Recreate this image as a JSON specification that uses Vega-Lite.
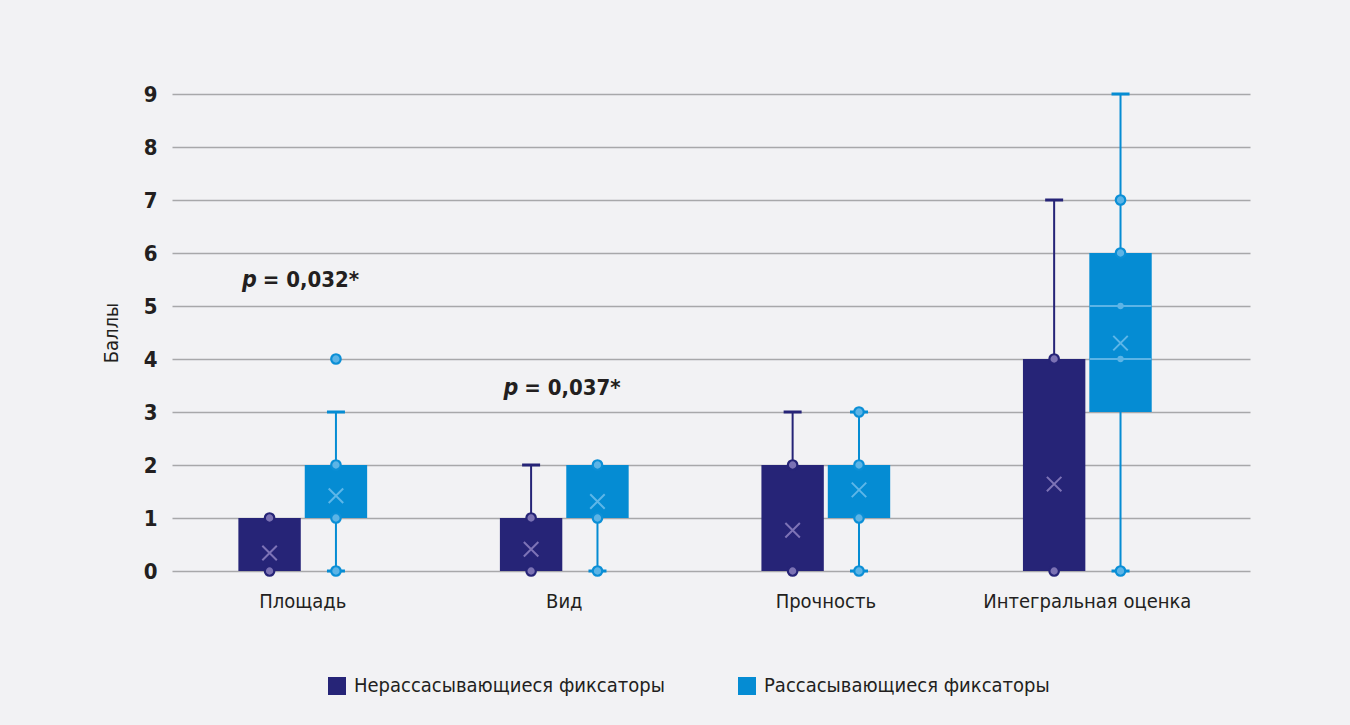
{
  "$schema": "https://vega.github.io/schema/vega-lite/v6.json",
  "autosize": "none",
  "width": 1078,
  "height": 477,
  "padding": {"left": 172, "top": 94, "right": 100, "bottom": 154},
  "background": "#f2f2f4",
  "config": {
    "font": "DejaVu Sans Condensed, Liberation Sans Narrow, sans-serif",
    "view": {"stroke": null},
    "axis": {
      "domain": false,
      "ticks": false,
      "labelColor": "#231f20",
      "titleColor": "#231f20",
      "labelFont": "DejaVu Sans Condensed, Liberation Sans Narrow, sans-serif",
      "titleFont": "DejaVu Sans Condensed, Liberation Sans Narrow, sans-serif"
    },
    "axisX": {"labelFontSize": 20, "labelPadding": 20, "grid": false, "labelAngle": 0, "labelLimit": 400},
    "axisY": {
      "labelFontSize": 22,
      "labelFontWeight": "bold",
      "labelPadding": 15,
      "grid": true,
      "gridColor": "#a8a8aa",
      "gridWidth": 1.5,
      "titleFontSize": 20,
      "titleFontWeight": "normal",
      "titlePadding": 22
    },
    "legend": {
      "labelFont": "DejaVu Sans Condensed, Liberation Sans Narrow, sans-serif",
      "labelFontSize": 20,
      "labelColor": "#231f20",
      "symbolType": "square",
      "symbolSize": 324,
      "symbolStrokeWidth": 0,
      "labelOffset": 7,
      "padding": 0,
      "columnPadding": 72,
      "labelLimit": 600
    }
  },
  "datasets": {
    "boxes": [
      {"cat": "Площадь", "grp": "Нерассасывающиеся фиксаторы", "lo": 0, "q1": 0, "q3": 1, "hi": 1, "mean": 0.34},
      {"cat": "Площадь", "grp": "Рассасывающиеся фиксаторы", "lo": 0, "q1": 1, "q3": 2, "hi": 3, "mean": 1.42},
      {"cat": "Вид", "grp": "Нерассасывающиеся фиксаторы", "lo": 0, "q1": 0, "q3": 1, "hi": 2, "mean": 0.41},
      {"cat": "Вид", "grp": "Рассасывающиеся фиксаторы", "lo": 0, "q1": 1, "q3": 2, "hi": 2, "mean": 1.31},
      {"cat": "Прочность", "grp": "Нерассасывающиеся фиксаторы", "lo": 0, "q1": 0, "q3": 2, "hi": 3, "mean": 0.77},
      {"cat": "Прочность", "grp": "Рассасывающиеся фиксаторы", "lo": 0, "q1": 1, "q3": 2, "hi": 3, "mean": 1.53},
      {"cat": "Интегральная оценка", "grp": "Нерассасывающиеся фиксаторы", "lo": 0, "q1": 0, "q3": 4, "hi": 7, "mean": 1.64},
      {"cat": "Интегральная оценка", "grp": "Рассасывающиеся фиксаторы", "lo": 0, "q1": 3, "q3": 6, "hi": 9, "mean": 4.3}
    ],
    "caps": [
      {"cat": "Площадь", "grp": "Рассасывающиеся фиксаторы", "v": 3},
      {"cat": "Площадь", "grp": "Рассасывающиеся фиксаторы", "v": 0},
      {"cat": "Вид", "grp": "Нерассасывающиеся фиксаторы", "v": 2},
      {"cat": "Вид", "grp": "Рассасывающиеся фиксаторы", "v": 0},
      {"cat": "Прочность", "grp": "Нерассасывающиеся фиксаторы", "v": 3},
      {"cat": "Прочность", "grp": "Рассасывающиеся фиксаторы", "v": 3},
      {"cat": "Прочность", "grp": "Рассасывающиеся фиксаторы", "v": 0},
      {"cat": "Интегральная оценка", "grp": "Нерассасывающиеся фиксаторы", "v": 7},
      {"cat": "Интегральная оценка", "grp": "Рассасывающиеся фиксаторы", "v": 9},
      {"cat": "Интегральная оценка", "grp": "Рассасывающиеся фиксаторы", "v": 0}
    ],
    "points": [
      {"cat": "Площадь", "grp": "Нерассасывающиеся фиксаторы", "v": 0},
      {"cat": "Площадь", "grp": "Нерассасывающиеся фиксаторы", "v": 1},
      {"cat": "Площадь", "grp": "Рассасывающиеся фиксаторы", "v": 0},
      {"cat": "Площадь", "grp": "Рассасывающиеся фиксаторы", "v": 1},
      {"cat": "Площадь", "grp": "Рассасывающиеся фиксаторы", "v": 2},
      {"cat": "Площадь", "grp": "Рассасывающиеся фиксаторы", "v": 4},
      {"cat": "Вид", "grp": "Нерассасывающиеся фиксаторы", "v": 0},
      {"cat": "Вид", "grp": "Нерассасывающиеся фиксаторы", "v": 1},
      {"cat": "Вид", "grp": "Рассасывающиеся фиксаторы", "v": 0},
      {"cat": "Вид", "grp": "Рассасывающиеся фиксаторы", "v": 1},
      {"cat": "Вид", "grp": "Рассасывающиеся фиксаторы", "v": 2},
      {"cat": "Прочность", "grp": "Нерассасывающиеся фиксаторы", "v": 0},
      {"cat": "Прочность", "grp": "Нерассасывающиеся фиксаторы", "v": 2},
      {"cat": "Прочность", "grp": "Рассасывающиеся фиксаторы", "v": 0},
      {"cat": "Прочность", "grp": "Рассасывающиеся фиксаторы", "v": 1},
      {"cat": "Прочность", "grp": "Рассасывающиеся фиксаторы", "v": 2},
      {"cat": "Прочность", "grp": "Рассасывающиеся фиксаторы", "v": 3},
      {"cat": "Интегральная оценка", "grp": "Нерассасывающиеся фиксаторы", "v": 0},
      {"cat": "Интегральная оценка", "grp": "Нерассасывающиеся фиксаторы", "v": 4},
      {"cat": "Интегральная оценка", "grp": "Рассасывающиеся фиксаторы", "v": 0},
      {"cat": "Интегральная оценка", "grp": "Рассасывающиеся фиксаторы", "v": 6},
      {"cat": "Интегральная оценка", "grp": "Рассасывающиеся фиксаторы", "v": 7}
    ],
    "inner": [
      {"cat": "Интегральная оценка", "grp": "Рассасывающиеся фиксаторы", "v": 4},
      {"cat": "Интегральная оценка", "grp": "Рассасывающиеся фиксаторы", "v": 5}
    ],
    "notes": [
      {"cat": "Площадь", "y": 5.5, "p": "p", "rest": "= 0,032*"},
      {"cat": "Вид", "y": 3.45, "p": "p", "rest": "= 0,037*"}
    ]
  },
  "layer": [
    {
      "data": {"name": "boxes"},
      "mark": {"type": "rule", "strokeWidth": 2},
      "encoding": {
        "x": {"field": "cat", "type": "nominal", "title": null,
              "scale": {"domain": ["Площадь", "Вид", "Прочность", "Интегральная оценка"], "paddingInner": 0, "paddingOuter": 0.061, "align": 0}},
        "xOffset": {"field": "grp", "type": "nominal",
                    "scale": {"domain": ["Нерассасывающиеся фиксаторы", "Рассасывающиеся фиксаторы"], "paddingInner": 0.06, "paddingOuter": 1.0}},
        "y": {"field": "lo", "type": "quantitative", "title": "Баллы",
              "scale": {"domain": [0, 9], "nice": false},
              "axis": {"values": [0, 1, 2, 3, 4, 5, 6, 7, 8, 9]}},
        "y2": {"field": "hi"},
        "color": {"field": "grp", "type": "nominal", "title": null,
                  "scale": {"domain": ["Нерассасывающиеся фиксаторы", "Рассасывающиеся фиксаторы"], "range": ["#262477", "#058cd3"]},
                  "legend": {"orient": "none", "direction": "horizontal", "legendX": 155, "legendY": 582, "title": null}}
      }
    },
    {
      "data": {"name": "boxes"},
      "mark": {"type": "bar", "cornerRadius": 0},
      "encoding": {
        "x": {"field": "cat", "type": "nominal", "title": null},
        "xOffset": {"field": "grp", "type": "nominal"},
        "y": {"field": "q1", "type": "quantitative", "title": "Баллы"},
        "y2": {"field": "q3"},
        "color": {"field": "grp", "type": "nominal", "title": null}
      }
    },
    {
      "data": {"name": "inner"},
      "mark": {"type": "tick", "size": 62, "thickness": 2, "color": "#5cb4e6", "opacity": 1},
      "encoding": {
        "x": {"field": "cat", "type": "nominal", "title": null},
        "xOffset": {"field": "grp", "type": "nominal"},
        "y": {"field": "v", "type": "quantitative", "title": "Баллы"}
      }
    },
    {
      "data": {"name": "caps"},
      "mark": {"type": "tick", "size": 18, "thickness": 3, "opacity": 1},
      "encoding": {
        "x": {"field": "cat", "type": "nominal", "title": null},
        "xOffset": {"field": "grp", "type": "nominal"},
        "y": {"field": "v", "type": "quantitative", "title": "Баллы"},
        "color": {"field": "grp", "type": "nominal", "title": null}
      }
    },
    {
      "data": {"name": "points"},
      "mark": {"type": "point", "shape": "circle", "filled": true, "size": 90, "strokeWidth": 2.2, "opacity": 1},
      "encoding": {
        "x": {"field": "cat", "type": "nominal", "title": null},
        "xOffset": {"field": "grp", "type": "nominal"},
        "y": {"field": "v", "type": "quantitative", "title": "Баллы"},
        "fill": {"field": "grp", "type": "nominal", "legend": null,
                 "scale": {"domain": ["Нерассасывающиеся фиксаторы", "Рассасывающиеся фиксаторы"], "range": ["#7b72b4", "#5cb4e6"]}},
        "stroke": {"field": "grp", "type": "nominal", "legend": null,
                   "scale": {"domain": ["Нерассасывающиеся фиксаторы", "Рассасывающиеся фиксаторы"], "range": ["#262477", "#0b8fd6"]}}
      }
    },
    {
      "data": {"name": "inner"},
      "mark": {"type": "point", "shape": "circle", "filled": true, "size": 40, "color": "#5cb4e6", "opacity": 1},
      "encoding": {
        "x": {"field": "cat", "type": "nominal", "title": null},
        "xOffset": {"field": "grp", "type": "nominal"},
        "y": {"field": "v", "type": "quantitative", "title": "Баллы"}
      }
    },
    {
      "data": {"name": "boxes"},
      "mark": {"type": "point", "shape": "M-1,-1L1,1M-1,1L1,-1", "filled": false, "size": 210, "strokeWidth": 2, "opacity": 1},
      "encoding": {
        "x": {"field": "cat", "type": "nominal", "title": null},
        "xOffset": {"field": "grp", "type": "nominal"},
        "y": {"field": "mean", "type": "quantitative", "title": "Баллы"},
        "stroke": {"field": "grp", "type": "nominal", "legend": null,
                   "scale": {"domain": ["Нерассасывающиеся фиксаторы", "Рассасывающиеся фиксаторы"], "range": ["#7d73b6", "#5db6e8"]}}
      }
    },
    {
      "data": {"name": "notes"},
      "mark": {"type": "text", "align": "right", "baseline": "middle", "dx": -46, "fontSize": 23, "fontWeight": "bold", "fontStyle": "italic", "color": "#231f20"},
      "encoding": {
        "x": {"field": "cat", "type": "nominal", "title": null},
        "y": {"field": "y", "type": "quantitative", "title": "Баллы"},
        "text": {"field": "p"}
      }
    },
    {
      "data": {"name": "notes"},
      "mark": {"type": "text", "align": "left", "baseline": "middle", "dx": -40, "fontSize": 22, "fontWeight": "bold", "color": "#231f20"},
      "encoding": {
        "x": {"field": "cat", "type": "nominal", "title": null},
        "y": {"field": "y", "type": "quantitative", "title": "Баллы"},
        "text": {"field": "rest"}
      }
    }
  ],
  "resolve": {"scale": {"stroke": "independent"}}
}
